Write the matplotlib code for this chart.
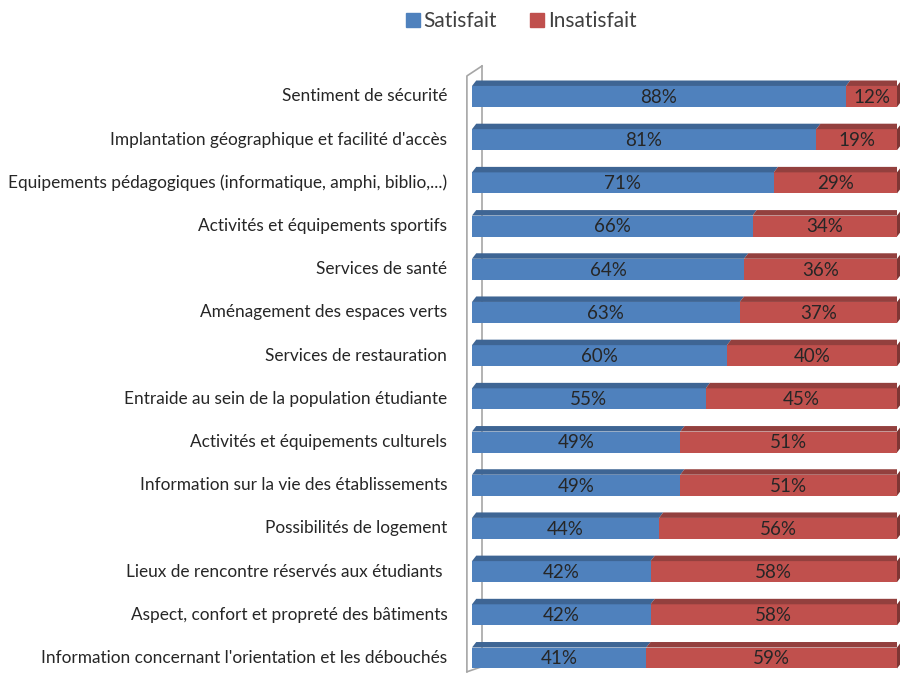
import numpy as np
import matplotlib
matplotlib.use("Agg")
import matplotlib.pyplot as plt
from matplotlib.patches import Polygon
from matplotlib.lines import Line2D

# donnees
categories = [
    "Sentiment de sécurité",
    "Implantation géographique et facilité d'accès",
    "Equipements pédagogiques (informatique, amphi, biblio,...)",
    "Activités et équipements sportifs",
    "Services de santé",
    "Aménagement des espaces verts",
    "Services de restauration",
    "Entraide au sein de la population étudiante",
    "Activités et équipements culturels",
    "Information sur la vie des établissements",
    "Possibilités de logement",
    "Lieux de rencontre réservés aux étudiants ",
    "Aspect, confort et propreté des bâtiments",
    "Information concernant l'orientation et les débouchés",
]
satisfait = [88, 81, 71, 66, 64, 63, 60, 55, 49, 49, 44, 42, 42, 41]
insatisfait = [12, 19, 29, 34, 36, 37, 40, 45, 51, 51, 56, 58, 58, 59]

blue, blue_top = "#4F81BD", "#3E6594"
red, red_top, red_side = "#C0504D", "#93403E", "#7E3634"
txt = "#262626"

plt.rcParams['font.family'] = ['Lato', 'DejaVu Sans']

fig = plt.figure(figsize=(9, 6.74), dpi=100)
ax = fig.add_axes([472 / 900, -0.0083, 425 / 900, 0.8972])
ax.set_xlim(0, 100)
ax.set_ylim(13.5, -0.5)
ax.axis("off")

y = np.arange(len(categories))
h = 0.486
dx, dy = 1.0, 0.127  # profondeur 3D (unites de donnees)

ax.barh(y, satisfait, height=h, color=blue, zorder=3)
ax.barh(y, insatisfait, left=satisfait, height=h, color=red, zorder=3)

for i in range(len(categories)):
    top = i - h / 2
    s, r = satisfait[i], insatisfait[i]
    # faces superieures
    ax.add_patch(Polygon([(0, top), (dx, top - dy), (s + dx, top - dy), (s, top)],
                         closed=True, color=blue_top, zorder=3, lw=0))
    ax.add_patch(Polygon([(s, top), (s + dx, top - dy), (s + r + dx, top - dy), (s + r, top)],
                         closed=True, color=red_top, zorder=3, lw=0))
    # face laterale droite
    ax.add_patch(Polygon([(s + r, top), (s + r + dx, top - dy), (s + r + dx, i + h / 2 - dy), (s + r, i + h / 2)],
                         closed=True, color=red_side, zorder=3, lw=0, clip_on=False))
    ax.text(s / 2, i + 0.02, f"{s}%", ha="center", va="center", fontsize=13.5, color=txt, zorder=4)
    ax.text(s + r / 2, i + 0.02, f"{r}%", ha="center", va="center", fontsize=13.5, color=txt, zorder=4)
    ax.text(-5.8, i, categories[i], ha="right", va="center", fontsize=12.4, color=txt, clip_on=False)

# paroi de l'axe
wall = "#A6A6A6"
xf, xb = -1.2, 2.35
ax.plot([xf, xf, xb], [13.32, -0.475, -0.706], color=wall, lw=1.2, clip_on=False, zorder=1)
ax.plot([xb, xb], [-0.706, 13.2], color=wall, lw=1.2, clip_on=False, zorder=1)
ax.plot([xf, xb], [13.32, 13.2], color=wall, lw=1.2, clip_on=False, zorder=1)

handles = [Line2D([], [], marker="s", ls="", color=blue, markersize=10),
           Line2D([], [], marker="s", ls="", color=red, markersize=10)]
fig.legend(handles, ["Satisfait", "Insatisfait"], loc="center", bbox_to_anchor=(0.579, 0.969),
           ncol=2, frameon=False, fontsize=15, handletextpad=0.15, columnspacing=1.6,
           labelcolor="#404040", handlelength=0.7)

fig.savefig("out.png", dpi=100)
